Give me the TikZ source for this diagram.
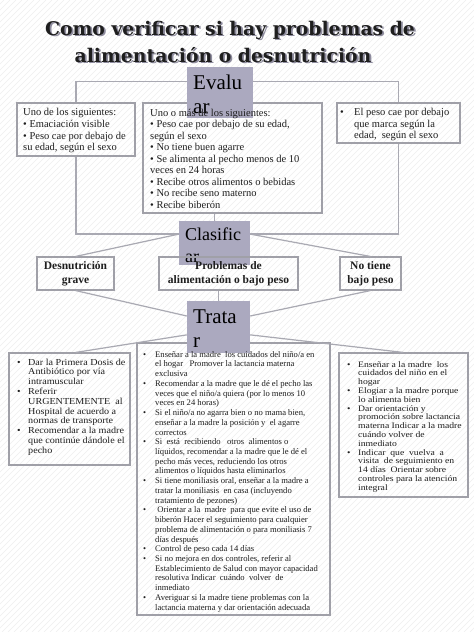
\documentclass[tikz,border=0pt]{standalone}
\usepackage{fontspec}
\setmainfont{Liberation Serif}
\newfontfamily\titlefont{DejaVu Serif}
\newfontfamily\lfont[FakeStretch=1.1]{Liberation Serif}
\newfontfamily\rfont[FakeStretch=1.15]{Liberation Serif}
\usetikzlibrary{fit,calc}
\definecolor{lblfill}{HTML}{ABA9BF}
\definecolor{lncol}{HTML}{A9A9B2}
\definecolor{bdcol}{HTML}{A0A0A8}
\definecolor{stripecol}{HTML}{EEEEEE}
\definecolor{shadowcol}{HTML}{8E8C9E}
\definecolor{txtcol}{HTML}{1E1E1E}
\newcommand\myBa{\makebox[11pt][l]{\textbullet}}
\newcommand\myIa{\hspace*{11pt}}
\newcommand\myBb{\makebox[12pt][l]{\textbullet}}
\newcommand\myIb{\hspace*{12pt}}
\newcommand\myBc{\makebox[14pt][l]{\textbullet}}
\newcommand\myIc{\hspace*{14pt}}
\tikzset{
  boxstyle/.style={draw=bdcol, line width=1.1pt, inner sep=0pt},
  lblbox/.style={fill=lblfill, draw=none, inner sep=0pt},
  conn/.style={draw=lncol, line width=1.2pt},
  txt/.style={inner sep=0pt, align=left, anchor=north west, text=txtcol},
  lbltxt/.style={inner sep=0pt, align=left, anchor=north west, text=black, font=\fontsize{21}{24}\selectfont},
  clstxt/.style={inner sep=0pt, align=center, text=txtcol, font=\bfseries\fontsize{11.5}{14}\selectfont},
  titletxt/.style={inner sep=0pt, anchor=base, font=\titlefont\bfseries\fontsize{18.8}{22}\selectfont}
}
\begin{document}
\begin{tikzpicture}[x=1pt,y=-1pt]
\useasboundingbox (0,0) rectangle (474,632);
\fill[white] (0,0) rectangle (474,632);
\begin{scope}
\clip (0,0) rectangle (474,632);
\foreach \i in {-640,-634,...,480} \draw[stripecol, line width=0.6pt] (\i,632) -- ++(632,-632);
\end{scope}

% title
\node[titletxt, text=shadowcol] (t1s) at (231.8,36.8) {Como verificar si hay problemas de};
\node[titletxt, text=shadowcol] (t2s) at (224.8,63.8) {alimentación o desnutrición};
\node[titletxt, text=txtcol] (t1) at (230,35) {Como verificar si hay problemas de};
\node[titletxt, text=txtcol] (t2) at (223,62) {alimentación o desnutrición};

% evaluation boxes
\node[boxstyle, fit={(17,103)(135,156)}] (b1) {};
\node[boxstyle, fit={(143,103)(322,213)}] (b2) {};
\node[boxstyle, fit={(337,103)(460,143)}] (b3) {};

\coordinate (jn) at (214.5,234);
\draw[conn] (b1.north) -- ++(0,-21) -| (b3.north);
\draw[conn] (b1.south) |- (jn) -| (b3.south);
\draw[conn] (b2.south -| jn) -- (jn);

\node[lblbox, fit={(187,67)(253,118)}] (ev) {};
\node[lbltxt] (evt) at (193,74.5) {Evalu\\ar};

\node[txt, font=\fontsize{10.5}{11.6}\selectfont] (b1t) at (23,108.5) {Uno de los siguientes:\\
\textbullet{} Emaciación visible\\
\textbullet{} Peso cae por debajo de\\
su edad, según el sexo};
\node[txt, font=\fontsize{10.5}{11.5}\selectfont] (b2t) at (150,108.5) {Uno o más de los siguientes:\\
\textbullet{} Peso cae por debajo de su edad,\\
según el sexo\\
\textbullet{} No tiene buen agarre\\
\textbullet{} Se alimenta al pecho menos de 10\\
veces en 24 horas\\
\textbullet{} Recibe otros alimentos o bebidas\\
\textbullet{} No recibe seno materno\\
\textbullet{} Recibe biberón};
\node[txt, font=\fontsize{10.5}{11.5}\selectfont] (b3t) at (340,108.5) {\myBc El peso cae por debajo\\
\myIc que marca según la\\
\myIc edad,\ \ según el sexo};

% classify
\node[lblbox, fit={(179,221)(250,265)}] (cla) {};
\node[lbltxt, font=\fontsize{18}{22}\selectfont] (clat) at (185,228) {Clasific\\ar};
\node[boxstyle, fit={(37,257)(114,290)}] (dg) {};
\node[boxstyle, fit={(159,257)(298,290)}] (pb) {};
\node[boxstyle, fit={(340,257)(401,290)}] (nt) {};
\node[clstxt] (dgt) at (dg.center) {Desnutrición\\grave};
\node[clstxt] (pbt) at (pb.center) {Problemas de\\alimentación o bajo peso};
\node[clstxt] (ntt) at (nt.center) {No tiene\\bajo peso};

\coordinate (claL) at ($(cla.north west)!0.3!(cla.south west)$);
\coordinate (claR) at ($(cla.north east)!0.3!(cla.south east)$);
\draw[conn] (claL) -- (dg.north);
\draw[conn] (claR) -- (nt.north);

% treat
\node[boxstyle, fit={(9,353)(130,465)}] (lb) {};
\node[boxstyle, fit={(137,343)(330,615)}] (mb) {};
\node[boxstyle, fit={(339,353)(468,497)}] (rb) {};

\node[lblbox, fit={(187,301)(250,353)}] (tr) {};
\node[lbltxt] (trt) at (193,309.5) {Trata\\r};

\coordinate (trL1) at ($(tr.north west)!0.29!(tr.south west)$);
\coordinate (trR1) at ($(tr.north east)!0.29!(tr.south east)$);
\coordinate (trL2) at ($(tr.north west)!0.65!(tr.south west)$);
\coordinate (trR2) at ($(tr.north east)!0.65!(tr.south east)$);
\draw[conn] (dg.south) -- (trL1);
\draw[conn] (nt.south) -- (trR1);
\draw[conn] (pb.south -| tr.north) -- (tr.north);
\draw[conn] (trL2) -- ($(lb.north)+(6,0)$);
\draw[conn] (trR2) -- (rb.north);

\node[txt, font=\lfont\fontsize{9.2}{9.8}\selectfont] (lbt) at (17,358.5) {\myBa Dar la Primera Dosis de\\
\myIa Antibiótico por vía\\
\myIa intramuscular\\
\myBa Referir\\
\myIa URGENTEMENTE\ \ al\\
\myIa Hospital de acuerdo a\\
\myIa normas de transporte\\
\myBa Recomendar a la madre\\
\myIa que continúe dándole el\\
\myIa pecho};

\node[txt, font=\fontsize{8.6}{9.73}\selectfont] (mbt) at (143,351) {\myBb Enseñar a la madre\ \ los cuidados del niño/a en\\
\myIb el hogar\ \ \ Promover la lactancia materna\\
\myIb exclusiva\\
\myBb Recomendar a la madre que le dé el pecho las\\
\myIb veces que el niño/a quiera (por lo menos 10\\
\myIb veces en 24 horas)\\
\myBb Si el niño/a no agarra bien o no mama bien,\\
\myIb enseñar a la madre la posición y\ \ el agarre\\
\myIb correctos\\
\myBb Si\ \ está\ \ recibiendo\ \ \ otros\ \ alimentos o\\
\myIb líquidos, recomendar a la madre que le dé el\\
\myIb pecho más veces, reduciendo los otros\\
\myIb alimentos o líquidos hasta eliminarlos\\
\myBb Si tiene moniliasis oral, enseñar a la madre a\\
\myIb tratar la moniliasis\ \ en casa (incluyendo\\
\myIb tratamiento de pezones)\\
\myBb \ Orientar a la\ \ madre\ \ para que evite el uso de\\
\myIb biberón Hacer el seguimiento para cualquier\\
\myIb problema de alimentación o para moniliasis 7\\
\myIb días después\\
\myBb Control de peso cada 14 días\\
\myBb Si no mejora en dos controles, referir al\\
\myIb Establecimiento de Salud con mayor capacidad\\
\myIb resolutiva Indicar\ \ cuándo\ \ volver\ \ de\\
\myIb inmediato\\
\myBb Averiguar si la madre tiene problemas con la\\
\myIb lactancia materna y dar orientación adecuada};

\node[txt, font=\rfont\fontsize{8.4}{8.8}\selectfont] (rbt) at (347,361) {\myBa Enseñar a la madre\ \ los\\
\myIa cuidados del niño en el\\
\myIa hogar\\
\myBa Elogiar a la madre porque\\
\myIa lo alimenta bien\\
\myBa Dar orientación y\\
\myIa promoción sobre lactancia\\
\myIa materna Indicar a la madre\\
\myIa cuándo volver de\\
\myIa inmediato\\
\myBa Indicar\ \ que\ \ vuelva\ \ a\\
\myIa visita\ \ de seguimiento en\\
\myIa 14 días\ \ Orientar sobre\\
\myIa controles para la atención\\
\myIa integral};
\end{tikzpicture}
\end{document}
